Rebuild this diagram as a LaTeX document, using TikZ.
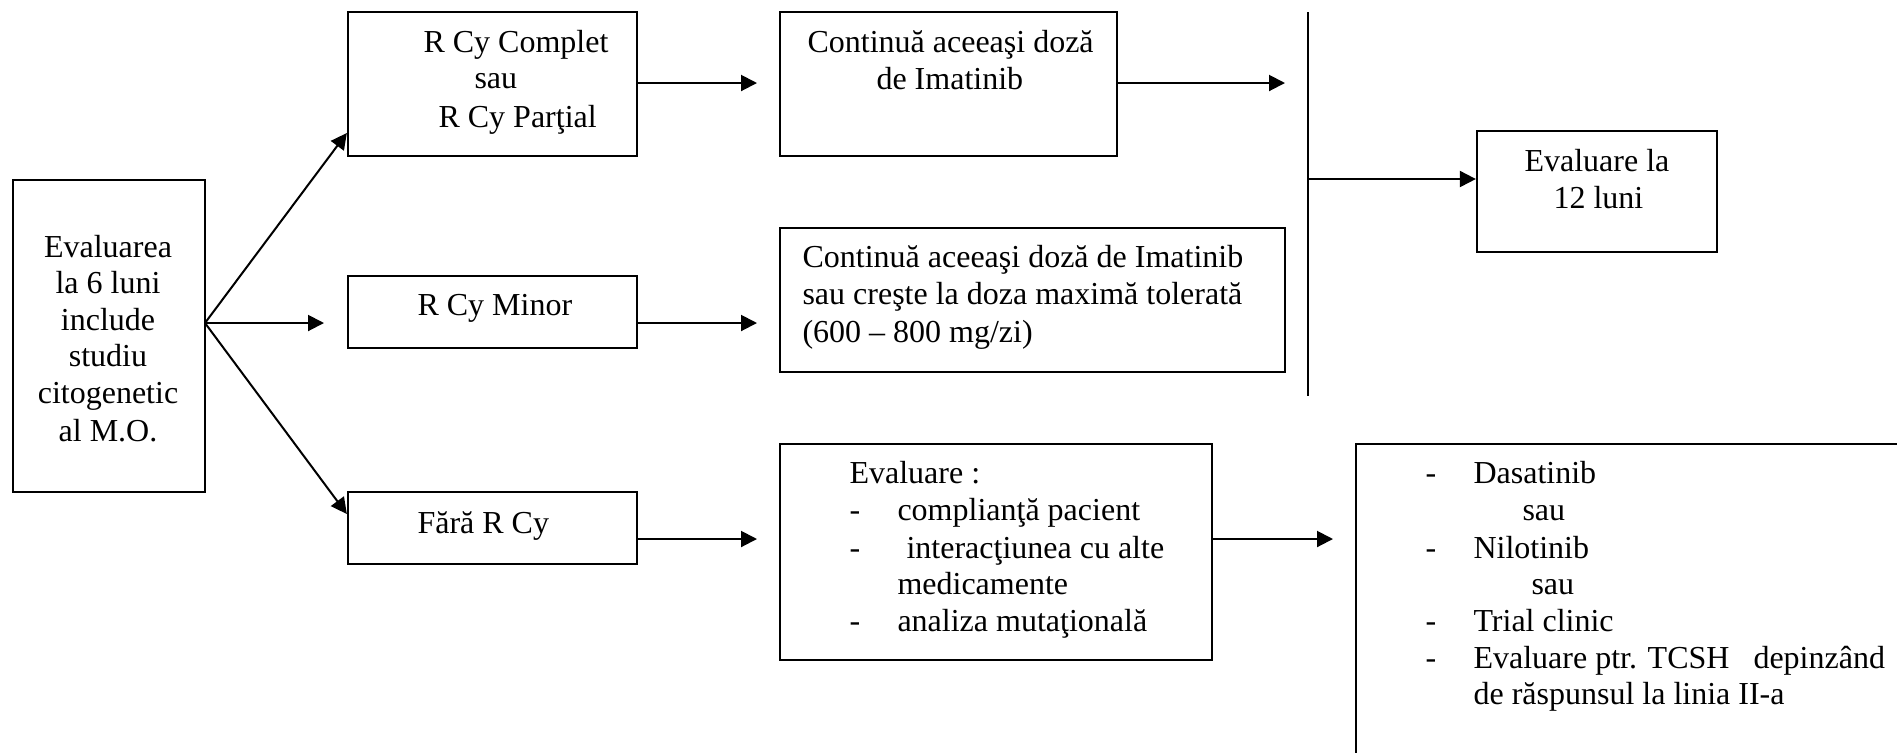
\documentclass[tikz,border=0pt]{standalone}
\usepackage{fontspec}
\setmainfont{Liberation Serif}
\usetikzlibrary{arrows.meta}
\begin{document}
\begin{tikzpicture}[x=0.375pt,y=-0.375pt,
  box/.style={draw, line width=0.85pt, inner sep=0pt},
  ln/.style={anchor=base west, inner sep=0pt, font=\fontsize{12}{13.8}\selectfont},
  lnc/.style={anchor=base, inner sep=0pt, font=\fontsize{12}{13.8}\selectfont},
  arr/.style={line width=0.75pt, -{Triangle[length=6pt,width=6pt]}}]
\useasboundingbox (0,0) rectangle (1897,752);
\clip (0,0) rectangle (1897,752);

% boxes
\node[box, minimum width=72pt,     minimum height=117pt]    (eval)  at (109,336)   {};
\node[box, minimum width=108.375pt, minimum height=54pt]    (top)   at (492.5,84)  {};
\node[box, minimum width=108.375pt, minimum height=27pt]    (minor) at (492.5,312) {};
\node[box, minimum width=108.375pt, minimum height=27pt]    (fara)  at (492.5,528) {};
\node[box, minimum width=126.375pt, minimum height=54pt]    (cont1) at (948.5,84)  {};
\node[box, minimum width=189.375pt, minimum height=54pt]    (cont2) at (1032.5,300) {};
\node[box, minimum width=162pt,     minimum height=81pt]    (evalm) at (996,552)   {};
\node[box, minimum width=90pt,      minimum height=45.375pt] (luni) at (1597,191.5) {};
\node[box, minimum width=211.5pt,   minimum height=126pt]   (alt)   at (1638,612)  {};

% texts
\node[lnc] (e1) at (108,257) {Evaluarea};
\node[lnc] (e2) at (108,293) {la 6 luni};
\node[lnc] (e3) at (108,330) {include};
\node[lnc] (e4) at (108,366) {studiu};
\node[lnc] (e5) at (108,403) {citogenetic};
\node[lnc] (e6) at (108,441) {al M.O.};

\node[ln] (t1) at (423,52)  {R Cy Complet};
\node[ln] (t2) at (474,88)  {sau};
\node[ln] (t3) at (438,127) {R Cy Parţial};

\node[ln] (m1) at (417,315) {R Cy Minor};
\node[ln] (f1) at (417,533) {Fără R Cy};

\node[ln] (c1) at (807,52) {Continuă aceeaşi doză};
\node[ln] (c2) at (876,89) {de Imatinib};

\node[ln] (d1) at (802,267) {Continuă aceeaşi doză de Imatinib};
\node[ln] (d2) at (802,304) {sau creşte la doza maximă tolerată};
\node[ln] (d3) at (802,342) {(600 – 800 mg/zi)};

\node[ln] (l1) at (1524,171) {Evaluare la};
\node[ln] (l2) at (1553,208) {12 luni};

\node[ln] (v0) at (849,483) {Evaluare :};
\node[ln] (vd1) at (849,520) {-};
\node[ln] (v1) at (897,520) {complianţă pacient};
\node[ln] (vd2) at (849,558) {-};
\node[ln] (v2) at (906,558) {interacţiunea cu alte};
\node[ln] (v3) at (897,594) {medicamente};
\node[ln] (vd4) at (849,631) {-};
\node[ln] (v4) at (897,631) {analiza mutaţională};

\node[ln] (ad1) at (1425,483) {-};
\node[ln] (a1) at (1473,483) {Dasatinib};
\node[ln] (a2) at (1522,520) {sau};
\node[ln] (ad3) at (1425,558) {-};
\node[ln] (a3) at (1473,558) {Nilotinib};
\node[ln] (a4) at (1531,594) {sau};
\node[ln] (ad5) at (1425,631) {-};
\node[ln] (a5) at (1473,631) {Trial clinic};
\node[ln] (ad6) at (1425,668) {-};
\node[ln] (a6) at (1473,668) {Evaluare ptr. TCSH\ \ \ depinzând};
\node[ln] (a7) at (1473,704) {de răspunsul la linia II-a};

% connector points
\coordinate (fan) at (205,323);
\coordinate (minorin) at (324,323);
\coordinate (topout) at (757,83);
\coordinate (minorout) at (757,323);
\coordinate (faraout) at (757,539);
\coordinate (cont1out) at (1285,83);
\coordinate (vtop) at (1308,12);
\coordinate (vbot) at (1308,396);
\coordinate (vmid) at (1308,179);
\coordinate (evalmout) at (1333,539);

% connectors
\draw[arr] (fan) -- (top.west |- 0,133);
\draw[arr] (fan) -- (minorin);
\draw[arr] (fan) -- (fara.west |- 0,514);
\draw[arr] (top.east |- topout) -- (topout);
\draw[arr] (minor.east |- minorout) -- (minorout);
\draw[arr] (fara.east |- faraout) -- (faraout);
\draw[arr] (cont1.east |- cont1out) -- (cont1out);
\draw[line width=0.85pt] (vtop) -- (vbot);
\draw[arr] (vmid) -- (luni.west |- vmid);
\draw[arr] (evalm.east |- evalmout) -- (evalmout);
\end{tikzpicture}
\end{document}
